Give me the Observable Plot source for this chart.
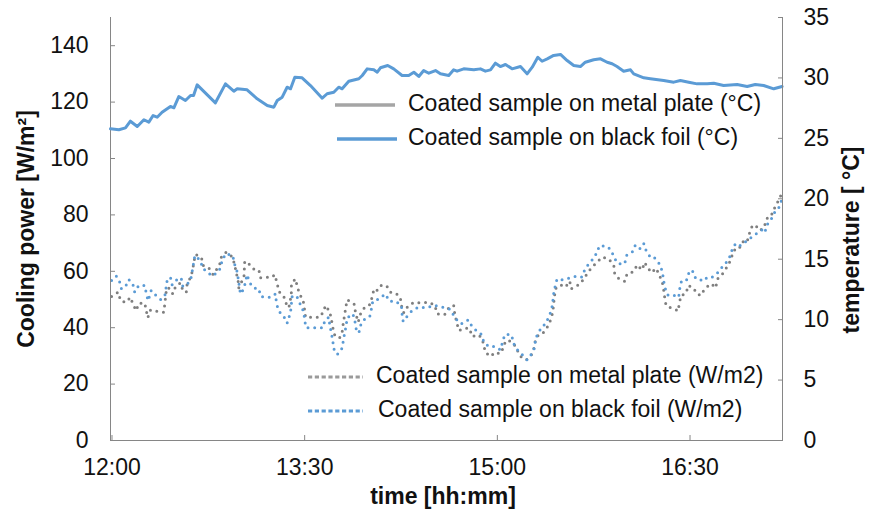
<!DOCTYPE html>
<html><head><meta charset="utf-8">
<script src="https://cdn.jsdelivr.net/npm/d3@7"></script>
<script src="https://cdn.jsdelivr.net/npm/@observablehq/plot@0.6"></script>
<style>
body{margin:0;background:#fff;}
#wrap{position:relative;width:870px;height:517px;font-family:Arial,"Liberation Sans",sans-serif;}
#wrap svg{position:absolute;left:0;top:0;overflow:visible;}
</style></head><body><div id="wrap"></div>
<script>
// ---- data (time = minutes after 12:00) ----
const tickLabels = ["12:00","13:30","15:00","16:30"];
const tickMinutes = [0,90,180,270];
const timeDomain = [-0.7, 313.2];
const powerTicks = [0,20,40,60,80,100,120,140];
const powerDomain = [0,150];
const tempTicks = [0,5,10,15,20,25,30,35];
const tempDomain = [0,35];

const seriesNames = [
  "Coated sample on metal plate (°C)",
  "Coated sample on black foil (°C)",
  "Coated sample on metal plate (W/m2)",
  "Coated sample on black foil (W/m2)"
];

const tempTime = [
 -0.7,3.2,6.3,8.6,11.8,14.9,17.2,19.2,21.1,23.4,
 27.3,28.9,31.2,34.3,36.7,38.1,39.8,48.3,53.0,56.9,
 58.5,63.1,67.8,72.5,75.6,77.2,79.5,81.8,83.4,85.4,
 88.8,92.7,98.2,100.5,103.6,105.9,107.5,110.6,115.3,116.9,
 119.2,122.3,123.9,125.4,128.8,131.6,135.5,138.6,141.0,143.3,
 145.6,148.0,151.1,153.4,157.3,159.6,161.2,164.3,169.0,172.1,
 174.4,176.8,179.1,181.4,183.8,186.9,190.8,193.9,196.3,198.9,
 200.9,203.3,206.3,209.5,212.6,215.7,218.8,221.1,225.0,228.2,
 231.3,233.6,235.9,239.0,242.2,243.7,248.4,251.5,257.7,262.4,
 265.5,269.4,273.3,278.0,281.1,285.7,292.0,296.7,300.5,304.4,
 309.1,313.0];
const tempFoil = [
 25.79,25.71,25.87,26.42,25.98,26.54,26.34,26.89,26.75,27.16,
 27.64,27.53,28.46,28.13,28.55,28.55,29.43,27.94,29.51,28.90,
 29.10,29.02,28.27,27.72,27.58,28.13,28.41,29.23,29.10,30.06,
 30.01,29.37,28.32,28.69,28.82,29.23,29.10,29.73,29.93,30.20,
 30.75,30.67,30.47,30.84,31.03,30.75,30.20,30.20,30.47,30.12,
 30.61,30.39,30.61,30.34,30.20,30.67,30.56,30.75,30.67,30.75,
 30.56,30.67,31.22,30.94,31.11,30.75,30.94,30.34,30.89,31.71,
 31.38,31.58,31.86,31.94,31.44,31.03,30.94,31.30,31.50,31.58,
 31.30,31.17,30.94,30.56,30.67,30.34,30.01,29.93,29.79,29.65,
 29.79,29.65,29.51,29.51,29.56,29.37,29.46,29.29,29.46,29.37,
 29.10,29.29];

const metalTime = [
 -0.2,2.9,4.0,6.6,8.6,9.7,11.3,12.5,15.3,16.0,
 16.7,18.0,21.6,24.2,24.7,25.5,26.9,28.4,29.7,32.0,
 33.1,34.7,35.1,36.7,37.7,38.2,39.0,41.8,42.6,45.2,
 47.3,48.3,50.2,51.1,53.3,56.1,57.2,58.0,58.9,59.2,
 60.3,61.6,62.0,63.9,65.9,68.6,69.4,71.7,74.8,76.0,
 77.2,77.9,80.2,81.4,82.6,83.4,83.8,83.8,85.7,86.5,
 87.6,89.3,89.9,90.4,93.2,97.1,98.9,99.7,101.7,102.5,
 103.1,104.1,106.3,107.5,108.0,108.6,109.8,111.9,113.3,113.7,
 115.0,116.1,118.1,120.4,121.5,122.3,123.5,125.4,128.2,130.1,
 132.7,134.7,135.2,136.3,138.2,141.0,144.6,148.3,150.8,151.9,
 155.4,157.3,159.6,160.1,160.9,162.0,164.6,167.0,168.2,171.3,
 172.9,173.7,174.4,176.8,179.1,181.1,182.2,183.5,185.0,187.7,
 189.2,190.8,193.6,195.9,197.0,197.8,199.3,201.7,203.3,204.8,
 205.9,206.3,207.1,209.5,211.8,213.8,214.5,216.5,218.4,220.4,
 222.4,224.3,226.6,228.9,232.0,234.4,234.8,236.4,239.5,240.6,
 243.7,245.3,247.6,248.8,250.0,252.0,254.2,255.7,257.0,257.7,
 258.2,258.8,260.8,262.9,264.4,265.1,265.8,268.2,269.1,271.7,
 273.0,274.9,276.4,278.0,280.0,281.9,283.1,285.0,287.0,288.9,
 289.9,291.5,293.5,295.1,296.7,297.7,299.0,300.5,302.4,304.4,
 306.0,307.5,309.1,309.9,311.4,312.6];
const metalPower = [
 51.1,52.6,49.6,49.0,50.8,48.5,46.1,48.7,48.7,46.1,
 43.5,46.3,45.7,45.5,48.7,54.0,54.0,52.0,54.6,55.9,
 53.2,52.6,55.6,57.9,60.5,63.2,66.0,64.8,62.1,61.2,
 58.8,60.0,62.1,65.0,66.8,65.2,62.7,59.7,56.7,54.1,
 56.1,57.3,63.6,62.7,60.9,60.5,57.7,57.9,57.9,58.8,
 55.6,52.9,51.2,48.5,47.1,50.2,52.6,55.6,57.3,54.7,
 52.0,49.6,46.7,43.7,43.7,43.7,45.9,47.9,45.7,42.9,
 40.2,37.2,36.4,38.4,41.4,44.3,49.9,49.0,48.2,45.5,
 42.0,44.9,47.3,48.2,50.8,53.5,52.9,55.0,55.0,52.6,
 52.2,50.6,47.9,45.3,47.6,49.0,48.8,49.0,47.9,44.9,
 44.7,47.1,47.9,44.9,42.3,39.0,39.8,39.8,36.9,37.5,
 36.1,33.7,31.3,29.8,31.3,30.7,31.9,34.5,35.7,34.3,
 32.2,29.8,28.6,30.4,32.5,35.5,37.6,38.4,40.2,42.6,
 45.5,48.5,53.8,55.2,54.4,56.5,53.8,54.7,55.3,57.3,
 59.7,61.5,63.2,65.0,64.4,62.1,59.3,57.6,56.4,59.1,
 59.9,62.3,60.5,63.2,61.5,59.5,61.1,58.5,56.4,53.4,
 50.6,47.9,47.1,46.7,45.9,49.0,51.4,52.2,55.0,54.1,
 52.2,51.4,53.2,54.6,55.6,54.1,57.6,58.9,61.2,63.8,
 66.2,68.5,68.5,70.9,70.6,73.3,76.0,76.5,74.5,75.3,
 78.8,79.2,81.6,83.3,85.1,87.2];

const foilTime = [
 -0.2,2.0,3.5,4.4,6.3,7.8,9.7,10.6,12.5,15.3,
 16.0,16.9,18.3,20.0,22.7,24.7,25.8,27.3,28.1,29.7,
 32.3,33.1,35.4,37.0,38.7,41.3,42.4,44.5,46.8,48.3,
 50.2,51.5,53.0,56.4,57.2,58.5,60.0,61.6,63.1,64.2,
 66.2,68.6,69.4,71.4,74.0,76.4,76.8,77.9,80.2,81.8,
 83.4,83.8,84.2,86.5,88.0,89.6,90.0,90.7,94.7,98.6,
 99.4,101.3,101.7,102.4,103.1,103.6,105.2,107.2,108.0,108.6,
 109.4,109.8,112.5,113.4,114.1,115.3,116.1,117.9,120.4,121.2,
 121.8,124.6,127.7,129.6,132.4,135.2,135.5,136.0,137.9,140.2,
 143.3,147.2,150.3,153.4,158.1,160.4,163.2,166.4,168.2,171.0,
 172.6,173.7,176.0,179.1,181.4,183.5,186.6,187.7,188.9,191.3,
 193.9,196.3,197.5,197.8,199.3,200.9,202.8,204.0,205.3,205.9,
 206.3,207.1,207.9,210.3,213.7,216.5,219.3,220.8,222.7,225.0,
 226.6,227.7,231.3,233.3,234.4,236.4,239.5,240.3,243.0,244.5,
 246.8,248.4,249.6,251.5,253.0,254.6,256.2,257.2,257.7,258.5,
 259.8,262.9,264.7,265.2,266.0,268.3,269.4,271.0,272.2,274.9,
 276.4,278.5,280.3,282.7,284.7,287.0,288.9,289.9,291.5,293.5,
 296.7,299.1,301.3,303.7,304.9,306.0,308.0,309.6,311.4,312.6];
const foilPower = [
 56.7,58.3,56.4,53.8,54.6,57.1,55.6,52.6,55.0,55.0,
 52.2,49.6,53.2,51.8,50.0,51.4,57.0,57.9,55.2,56.7,
 57.7,54.6,55.6,57.9,65.6,63.8,61.1,59.7,58.3,59.1,
 60.5,63.8,66.2,65.6,62.7,59.7,52.0,53.8,58.8,56.1,
 54.1,53.8,51.1,50.8,50.8,52.0,48.7,45.9,44.1,41.6,
 45.5,48.5,51.4,50.8,48.2,45.5,42.6,40.0,40.0,40.0,
 42.6,43.7,41.0,38.4,35.5,32.5,30.5,32.2,35.1,37.8,
 40.8,43.5,44.9,42.6,39.4,38.1,40.8,42.9,44.0,46.7,
 49.4,50.2,52.0,49.4,49.4,47.9,44.9,42.2,44.1,46.1,
 47.3,47.1,47.9,47.5,46.5,43.3,41.4,42.8,40.4,38.4,
 37.6,34.9,33.3,33.3,32.2,37.6,37.5,34.3,32.5,30.7,
 28.6,31.0,33.1,36.1,38.4,40.4,41.6,44.0,46.1,49.3,
 52.0,55.0,57.3,57.0,57.6,58.2,57.9,60.5,62.7,64.6,
 66.8,69.1,68.8,67.4,65.0,62.7,62.7,65.6,66.8,69.4,
 68.0,69.8,67.1,65.0,65.2,63.8,62.1,59.3,56.5,53.8,
 51.4,51.4,50.8,53.8,56.5,56.7,59.3,60.5,57.9,56.7,
 57.9,57.3,57.9,59.3,61.2,63.2,65.6,68.3,70.0,69.1,
 70.9,72.3,73.5,74.7,73.7,76.5,78.6,81.0,82.4,84.9];

// ---- styles ----
const BLUE = "#5b9bd5", GRAY_DOT = "#7f7f7f", GRAY_LINE = "#a5a5a5", AXIS = "#868686";
const FONT = "Arial, 'Liberation Sans', sans-serif";
const FS = 23;

const metal = metalTime.map((t,i)=>({t, p: metalPower[i]}));
const foil = foilTime.map((t,i)=>({t, p: foilPower[i]}));
const temp = tempTime.map((t,i)=>({t, c: tempFoil[i]}));

const base = {
  width: 870, height: 517,
  marginTop: 17, marginRight: 88, marginBottom: 77, marginLeft: 110,
  style: {fontFamily: FONT, background: "transparent", color: "#111", overflow: "visible"}
};
const dotted = {strokeWidth: 3, strokeDasharray: "0,6.7", strokeLinecap: "round", strokeLinejoin: "round"};

const p1 = Plot.plot({
  ...base,
  x: {domain: timeDomain},
  y: {domain: powerDomain},
  marks: [
    Plot.line(metal, {x: "t", y: "p", stroke: GRAY_DOT, ...dotted}),
    Plot.line(foil, {x: "t", y: "p", stroke: BLUE, ...dotted}),
    Plot.frame({anchor: "left", stroke: AXIS}),
    Plot.frame({anchor: "bottom", stroke: AXIS}),
    Plot.axisY({ticks: powerTicks, tickSize: 0, tickPadding: 22, label: null, fontSize: FS}),
    Plot.axisY({ticks: powerTicks, tickSize: -5, fill: "none", stroke: AXIS, label: null}),
    Plot.axisX({ticks: tickMinutes, tickSize: 0, tickPadding: 18, label: null, fontSize: FS,
      tickFormat: d => tickLabels[tickMinutes.indexOf(d)]}),
    Plot.axisX({ticks: tickMinutes, tickSize: -5, fill: "none", stroke: AXIS, label: null})
  ]
});

const p2 = Plot.plot({
  ...base,
  x: {domain: timeDomain, axis: null},
  y: {domain: tempDomain},
  marks: [
    Plot.line(temp, {x: "t", y: "c", stroke: BLUE, strokeWidth: 3, strokeLinejoin: "round"}),
    Plot.frame({anchor: "right", stroke: AXIS}),
    Plot.axisY({anchor: "right", ticks: tempTicks, tickSize: 0, tickPadding: 21, label: null, fontSize: FS}),
    Plot.axisY({anchor: "right", ticks: tempTicks, tickSize: -5, fill: "none", stroke: AXIS, label: null})
  ]
});

const wrap = document.getElementById("wrap");
wrap.append(p1, p2);

// ---- titles and legend ----
const ov = d3.select(wrap).append("svg").attr("width", 870).attr("height", 517)
  .style("font-family", FONT);

ov.append("text").attr("transform", "translate(28,229) rotate(-90)")
  .attr("text-anchor", "middle").attr("dominant-baseline", "middle")
  .attr("font-size", FS).attr("font-weight", "bold").attr("fill", "#111")
  .text("Cooling power [W/m²]");
ov.append("text").attr("transform", "translate(853,240) rotate(-90)")
  .attr("text-anchor", "middle").attr("dominant-baseline", "middle")
  .attr("font-size", FS).attr("font-weight", "bold").attr("fill", "#111")
  .text("temperature [ °C]");
ov.append("text").attr("x", 443).attr("y", 498)
  .attr("text-anchor", "middle").attr("dominant-baseline", "middle")
  .attr("font-size", FS).attr("font-weight", "bold").attr("fill", "#111")
  .text("time [hh:mm]");

const legend = [
  {name: seriesNames[0], color: GRAY_LINE, dash: null, x0: 335, x1: 395, tx: 408, y: 105},
  {name: seriesNames[1], color: BLUE, dash: null, x0: 337, x1: 397, tx: 408, y: 139},
  {name: seriesNames[2], color: "#9a9a9a", dash: "4.2,2.6", x0: 308, x1: 363, tx: 376, y: 377},
  {name: seriesNames[3], color: BLUE, dash: "4.2,2.6", x0: 308, x1: 363, tx: 378, y: 411}
];
for (const L of legend) {
  ov.append("line").attr("x1", L.x0).attr("x2", L.x1).attr("y1", L.y).attr("y2", L.y)
    .attr("stroke", L.color).attr("stroke-width", L.dash ? 3 : 3.5)
    .attr("stroke-dasharray", L.dash);
  ov.append("text").attr("x", L.tx).attr("y", L.y).attr("dominant-baseline", "middle")
    .attr("font-size", FS).attr("fill", "#111").text(L.name);
}
</script></body></html>
